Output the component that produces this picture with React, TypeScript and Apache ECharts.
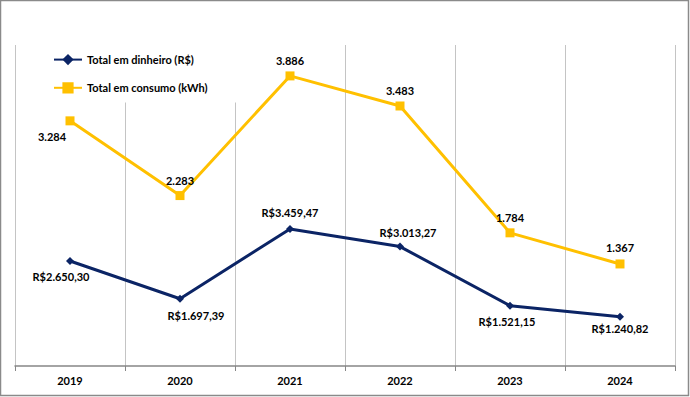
import React, { useEffect, useRef } from 'react';
import * as echarts from 'echarts';

const years = ['2019', '2020', '2021', '2022', '2023', '2024'];
const dinheiro = [2650.3, 1697.39, 3459.47, 3013.27, 1521.15, 1240.82];
const consumo = [3284, 2283, 3886, 3483, 1784, 1367];

// label placement (offset from point) — styling only
const dinheiroLabelOffsets = [[-9, 16], [16, 17], [0, -16], [8, -14], [-3, 16], [0, 12]];
const consumoLabelOffsets = [[-18, 16], [0, -15], [0, -15], [0, -15], [0, -15], [0, -16]];

const thousands = (s: string) => s.replace(/\B(?=(\d{3})+(?!\d))/g, '.');
const fmtBRL = (v: number) => {
  const [i, d] = v.toFixed(2).split('.');
  return 'R$' + thousands(i) + ',' + d;
};
const fmtKwh = (v: number) => thousands(String(Math.round(v)));

const FONT = 'Lato, "Open Sans", sans-serif';

export default function App() {
  const ref = useRef<HTMLDivElement>(null);
  useEffect(() => {
    if (!ref.current) return;
    const chart = echarts.init(ref.current, undefined, { renderer: 'svg' });
    const labelBase = {
      show: true,
      position: 'inside' as const,
      color: '#000',
      fontFamily: FONT,
      fontWeight: 'bold' as const,
      fontSize: 11,
      align: 'center' as const,
      verticalAlign: 'middle' as const,
    };
    chart.setOption({
      animation: false,
      backgroundColor: '#fff',
      graphic: [
        {
          type: 'rect',
          shape: { x: 0.5, y: 0.5, width: 688, height: 395 },
          style: { fill: 'none', stroke: '#8a8a8a', lineWidth: 1.5 },
          silent: true,
          z: 100,
        },
      ],
      legend: {
        orient: 'vertical',
        left: 16,
        top: 45,
        padding: [9, 37, 9, 37],
        backgroundColor: '#fff',
        itemWidth: 28,
        itemHeight: 14,
        itemGap: 17,
        textStyle: { fontFamily: FONT, fontWeight: 'bold', fontSize: 11, color: '#000' },
        data: ['Total em dinheiro (R$)', 'Total em consumo (kWh)'],
      },
      grid: { left: 15, right: 15, top: 45, bottom: 31 },
      xAxis: {
        type: 'category',
        data: years,
        boundaryGap: true,
        axisLine: { show: true, lineStyle: { color: '#868686', width: 1.5 } },
        axisTick: { show: true, length: 5, lineStyle: { color: '#868686' } },
        axisLabel: { color: '#000', fontFamily: FONT, fontWeight: 'bold', fontSize: 11, margin: 9 },
        splitLine: { show: true, lineStyle: { color: '#c4c4c4', width: 1 } },
      },
      yAxis: [
        { type: 'value', min: 0, max: 8100, show: false },
        { type: 'value', min: 0, max: 4300, show: false },
      ],
      series: [
        {
          name: 'Total em dinheiro (R$)',
          type: 'line',
          yAxisIndex: 0,
          symbol: 'diamond',
          symbolSize: 8,
          color: '#0b2465',
          lineStyle: { width: 3, color: '#0b2465' },
          itemStyle: { color: '#0b2465' },
          data: dinheiro.map((v, i) => ({
            value: v,
            label: { ...labelBase, offset: dinheiroLabelOffsets[i], formatter: () => fmtBRL(v) },
          })),
        },
        {
          name: 'Total em consumo (kWh)',
          type: 'line',
          yAxisIndex: 1,
          symbol: 'rect',
          symbolSize: 9,
          color: '#ffc000',
          lineStyle: { width: 3, color: '#ffc000' },
          itemStyle: { color: '#ffc000' },
          data: consumo.map((v, i) => ({
            value: v,
            label: { ...labelBase, offset: consumoLabelOffsets[i], formatter: () => fmtKwh(v) },
          })),
        },
      ],
    });
    return () => chart.dispose();
  }, []);
  return (
    <div
      ref={ref}
      style={{ position: 'absolute', left: 0, top: 0, width: 690, height: 397 }}
    />
  );
}
